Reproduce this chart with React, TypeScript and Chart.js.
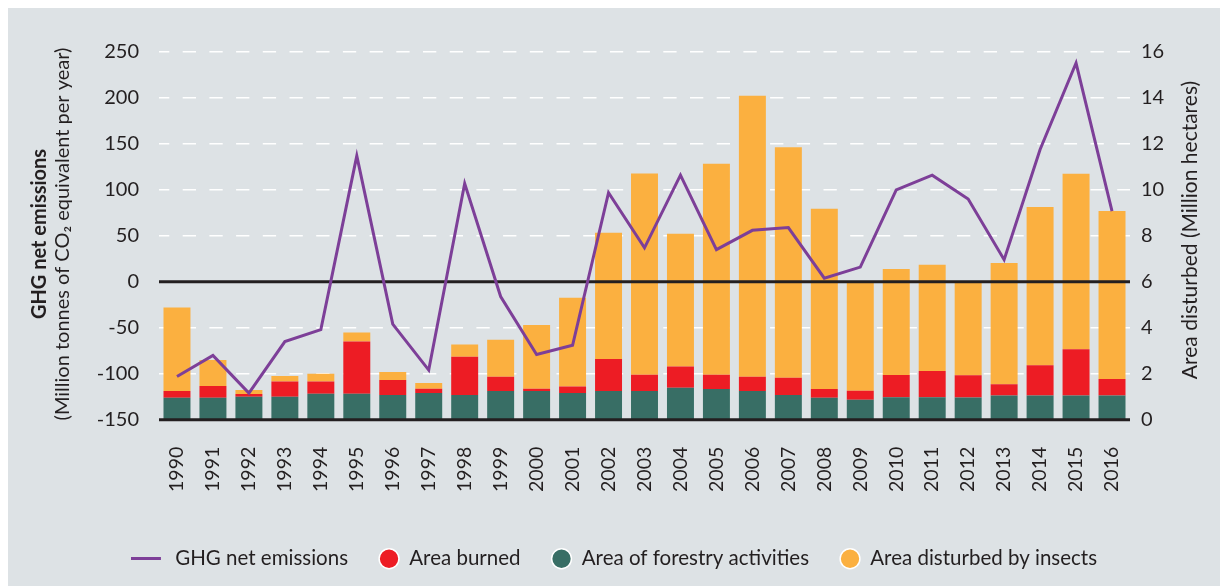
import React, { useEffect, useRef } from "react";
import { Chart, registerables } from "chart.js";

Chart.register(...registerables);

const years = ["1990","1991","1992","1993","1994","1995","1996","1997","1998","1999","2000","2001","2002","2003","2004","2005","2006","2007","2008","2009","2010","2011","2012","2013","2014","2015","2016"];

// GHG net emissions (Mt CO2e / year) – left axis
const ghgNetEmissions = [-103, -80, -121, -65, -52, 137, -46, -96, 107, -16, -79, -69, 97, 37, 116, 35, 56, 59, 4, 16, 100, 116, 90, 24, 144, 238, 77];

// Area disturbed (million hectares) – right axis, stacked
const areaForestry = [0.96, 0.96, 1.0, 1.0, 1.13, 1.13, 1.08, 1.16, 1.08, 1.25, 1.25, 1.16, 1.25, 1.25, 1.39, 1.34, 1.25, 1.08, 0.96, 0.87, 0.98, 0.98, 0.97, 1.05, 1.05, 1.05, 1.05];
const areaBurned = [0.29, 0.51, 0.12, 0.66, 0.53, 2.27, 0.65, 0.19, 1.66, 0.62, 0.1, 0.28, 1.39, 0.71, 0.92, 0.62, 0.62, 0.75, 0.38, 0.39, 0.96, 1.14, 0.96, 0.49, 1.32, 2.02, 0.72];
const areaInsects = [3.63, 1.13, 0.17, 0.24, 0.34, 0.39, 0.35, 0.25, 0.53, 1.61, 2.77, 3.87, 5.5, 8.75, 5.78, 9.18, 12.23, 10.02, 7.84, 4.72, 4.62, 4.62, 4.07, 5.28, 6.89, 7.63, 7.31];

const leftTicks = { min: -150, max: 250, step: 50 };
const rightTicks = { min: 0, max: 16, step: 2 };

const seriesLabels = ["GHG net emissions", "Area of forestry activities", "Area burned", "Area disturbed by insects"];
const leftTitleBold = "GHG net emissions";
const leftTitle = "(Million tonnes of CO\u2082 equivalent per year)";
const rightTitle = "Area disturbed (Million hectares)";

const FONT = "Lato";
const TEXT = "#231f20";
const PURPLE = "#7d3f98";
const GREEN = "#386e65";
const RED = "#ed1c24";
const ORANGE = "#fbb040";
const BG = "#dde2e5";

export default function App() {
  const ref = useRef<HTMLCanvasElement | null>(null);

  useEffect(() => {
    if (!ref.current) return;

    const lineIcon = document.createElement("canvas");
    lineIcon.width = 48;
    lineIcon.height = 3;
    const lctx = lineIcon.getContext("2d");
    if (lctx) {
      lctx.fillStyle = PURPLE;
      lctx.fillRect(0, 0, 30, 3);
    }

    const overlay = {
      id: "overlay",
      beforeDatasetDraw(chart: any, args: any) {
        if (args.index !== 0) return;
        const { ctx, chartArea, scales } = chart;
        const y0 = scales.y.getPixelForValue(0);
        const yb = scales.y.getPixelForValue(leftTicks.min);
        ctx.save();
        ctx.strokeStyle = TEXT;
        ctx.lineWidth = 3;
        ctx.beginPath();
        ctx.moveTo(chartArea.left, y0);
        ctx.lineTo(chartArea.right, y0);
        ctx.moveTo(chartArea.left, yb);
        ctx.lineTo(chartArea.right, yb);
        ctx.stroke();
        ctx.restore();
      },
      afterDraw(chart: any) {
        const { ctx } = chart;
        const drawV = (text: string, x: number, y: number, font: string) => {
          ctx.save();
          ctx.translate(x, y);
          ctx.rotate(-Math.PI / 2);
          ctx.font = font;
          ctx.fillStyle = TEXT;
          ctx.textAlign = "center";
          ctx.textBaseline = "middle";
          ctx.fillText(text, 0, 0);
          ctx.restore();
        };
        drawV(leftTitleBold, 32, 226, `bold 20px ${FONT}`);
        drawV(leftTitle, 55, 226, `20px ${FONT}`);
        drawV(rightTitle, 1182, 222, `21px ${FONT}`);
      },
    };

    const legendRank = [0, 2, 1, 3];

    const chart = new Chart(ref.current, {
      type: "bar",
      data: {
        labels: years,
        datasets: [
          {
            type: "line",
            label: seriesLabels[0],
            data: ghgNetEmissions,
            yAxisID: "y",
            borderColor: PURPLE,
            backgroundColor: PURPLE,
            borderWidth: 3,
            pointRadius: 0,
            tension: 0,
          } as any,
          {
            label: seriesLabels[1],
            data: areaForestry,
            yAxisID: "y1",
            backgroundColor: GREEN,
            stack: "a",
            pointStyle: "circle",
          },
          {
            label: seriesLabels[2],
            data: areaBurned,
            yAxisID: "y1",
            backgroundColor: RED,
            stack: "a",
            pointStyle: "circle",
          },
          {
            label: seriesLabels[3],
            data: areaInsects,
            yAxisID: "y1",
            backgroundColor: ORANGE,
            stack: "a",
            pointStyle: "circle",
          },
        ],
      },
      options: {
        animation: false,
        responsive: false,
        layout: { padding: { top: 44, bottom: 7, left: 14, right: 0 } },
        datasets: {
          bar: { categoryPercentage: 1, barPercentage: 0.75 },
        },
        scales: {
          x: {
            stacked: true,
            grid: { display: false },
            border: { display: false },
            ticks: {
              autoSkip: false,
              maxRotation: 90,
              minRotation: 90,
              padding: 19,
              color: TEXT,
              font: { family: FONT, size: 19.5 },
            },
            afterFit: (s: any) => {
              s.height = 97.8;
            },
          },
          y: {
            position: "left",
            min: leftTicks.min,
            max: leftTicks.max,
            grid: {
              drawTicks: false,
              lineWidth: 1.5,
              color: (c: any) =>
                c.tick && (c.tick.value === 0 || c.tick.value === leftTicks.min) ? "rgba(0,0,0,0)" : "#ffffff",
            },
            border: { display: false, dash: [13.3, 13.4], dashOffset: 3 },
            ticks: {
              stepSize: leftTicks.step,
              padding: 20,
              color: TEXT,
              font: { family: FONT, size: 20 },
            },
            afterFit: (s: any) => {
              s.width = 137;
            },
          },
          y1: {
            position: "right",
            stacked: true,
            min: rightTicks.min,
            max: rightTicks.max,
            grid: { display: false, drawTicks: false },
            border: { display: false },
            ticks: {
              stepSize: rightTicks.step,
              padding: 11,
              color: TEXT,
              font: { family: FONT, size: 20 },
            },
            afterFit: (s: any) => {
              s.width = 90;
            },
          },
        },
        plugins: {
          tooltip: { enabled: false },
          legend: {
            position: "bottom",
            labels: {
              usePointStyle: true,
              boxWidth: 20,
              boxHeight: 14,
              padding: 31,
              color: TEXT,
              font: { family: FONT, size: 20.5 },
              generateLabels: (ch: any) => {
                const items = (Chart.defaults as any).plugins.legend.labels.generateLabels(ch);
                items.forEach((it: any) => {
                  if (it.datasetIndex === 0) {
                    it.pointStyle = lineIcon;
                    it.lineWidth = 0;
                  } else {
                    it.pointStyle = "circle";
                    it.strokeStyle = "#ffffff";
                    it.lineWidth = 1.5;
                  }
                });
                return items.sort((a: any, b: any) => legendRank[a.datasetIndex] - legendRank[b.datasetIndex]);
              },
            },
          },
        },
      },
      plugins: [overlay],
    } as any);

    return () => chart.destroy();
  }, []);

  return (
    <div
      style={{
        position: "fixed",
        left: 8,
        top: 8,
        width: 1212,
        height: 578,
        background: BG,
      }}
    >
      <canvas ref={ref} width={1212} height={578} style={{ display: "block" }} />
    </div>
  );
}
